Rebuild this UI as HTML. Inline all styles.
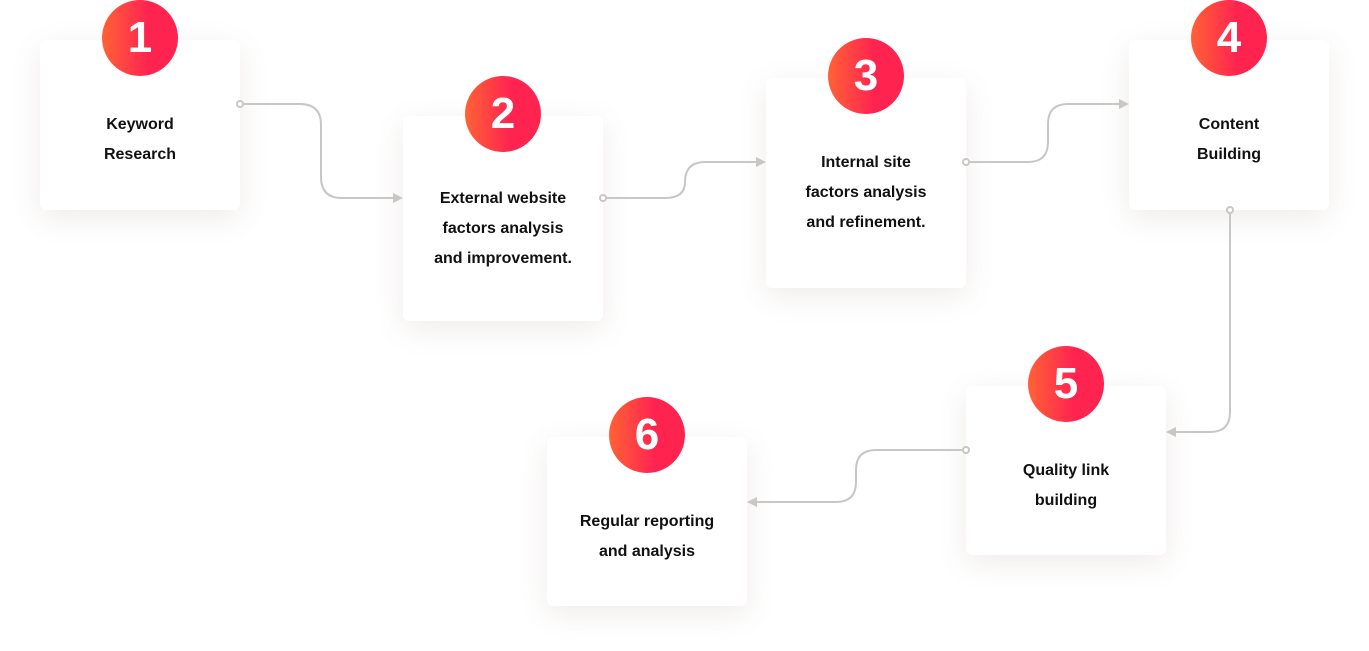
<!DOCTYPE html>
<html><head><style>
body{margin:0;width:1369px;height:651px;background:#fff;position:relative;overflow:hidden;font-family:"Liberation Sans",sans-serif}
.c{position:absolute;width:200px;background:#fff;border-radius:6px;box-shadow:0 8px 30px rgba(120,100,80,.12);display:flex;align-items:center;justify-content:center;text-align:center;font-weight:bold;font-size:16px;line-height:30px;color:#111;box-sizing:border-box;padding-top:8px}
.n{position:absolute;width:76px;height:76px;border-radius:50%;background:linear-gradient(90deg,#ff6236,#ff2450 60%);color:#fff;font-weight:900;font-size:44px;line-height:76px;text-align:center}
svg{position:absolute;left:0;top:0}
</style></head><body>
<div class="c" style="left:40px;top:40px;height:170px;padding-top:30px">Keyword<br>Research</div>
<div class="c" style="left:403px;top:116px;height:205px;padding-top:20px">External website<br>factors analysis<br>and improvement.</div>
<div class="c" style="left:766px;top:78px;height:210px;padding-top:20px">Internal site<br>factors analysis<br>and refinement.</div>
<div class="c" style="left:1129px;top:40px;height:170px;padding-top:30px">Content<br>Building</div>
<div class="c" style="left:966px;top:386px;height:169px;padding-top:30px">Quality link<br>building</div>
<div class="c" style="left:547px;top:437px;height:169px;padding-top:30px">Regular reporting<br>and analysis</div>
<svg width="1369" height="651" fill="none" stroke="#c9c7c5" stroke-width="2">
<path d="M243 104H300Q321 104 321 125V177Q321 198 342 198H395"/>
<path d="M606 198H665Q685 198 685 182Q685 162 705 162H758"/>
<path d="M969 162H1028Q1048 162 1048 142V124Q1048 104 1068 104H1121"/>
<path d="M1230 213V412Q1230 432 1210 432H1174"/>
<path d="M963 450H876Q856 450 856 470V482Q856 502 836 502H755"/>
<g fill="#fff"><circle cx="240" cy="104" r="3"/><circle cx="603" cy="198" r="3"/><circle cx="966" cy="162" r="3"/><circle cx="1230" cy="210" r="3"/><circle cx="966" cy="450" r="3"/></g>
<g fill="#c9c7c5" stroke="none"><path d="M403 198l-10-5v10z"/><path d="M766 162l-10-5v10z"/><path d="M1129 104l-10-5v10z"/><path d="M1166 432l10-5v10z"/><path d="M747 502l10-5v10z"/></g>
</svg>
<div class="n" style="left:102px;top:0px">1</div>
<div class="n" style="left:465px;top:76px">2</div>
<div class="n" style="left:828px;top:38px">3</div>
<div class="n" style="left:1191px;top:0px">4</div>
<div class="n" style="left:1028px;top:346px">5</div>
<div class="n" style="left:609px;top:397px">6</div>
</body></html>
